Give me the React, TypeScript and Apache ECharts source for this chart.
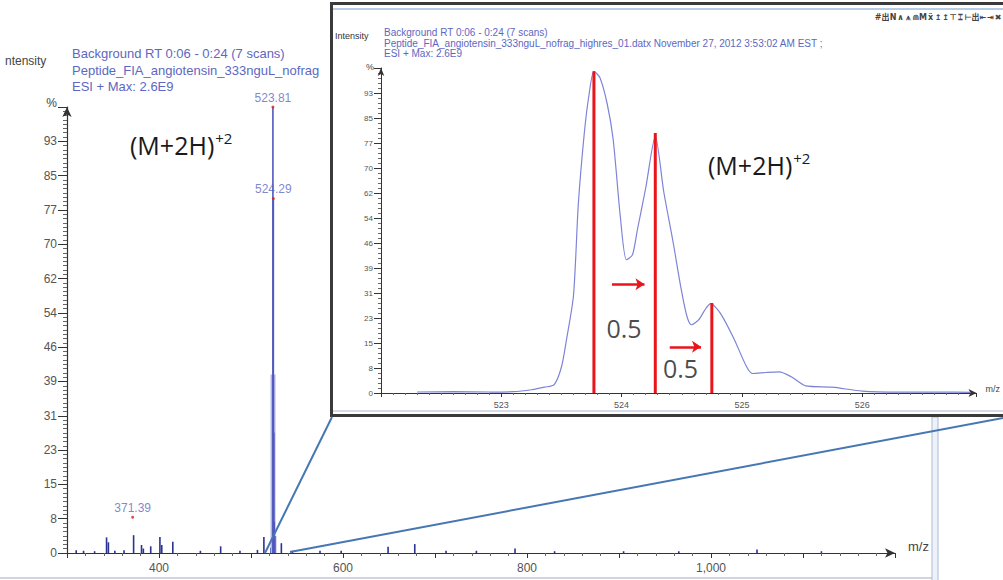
import React, { useEffect, useRef } from "react";
import * as echarts from "echarts";

// ---- data ----
const yTickLabels = ["0", "8", "15", "23", "31", "39", "46", "54", "62", "70", "77", "85", "93"];
const mainXLabelValues = [400, 600, 800, 1000];
const insetXLabelValues = [523, 524, 525, 526];

// main spectrum: small (background) peaks [m/z, %]
const mainNoisePeaks: [number, number][] = [
  [310, 0.6], [318, 0.5], [330, 0.4], [343, 3.5], [345, 2.4], [352, 0.5], [362, 0.6],
  [372.4, 4], [381, 1.8], [383, 1], [391, 1.5], [401, 3.6], [403, 1.8], [415, 2.5],
  [445, 0.5], [467, 1.5], [488, 0.5], [507, 0.7], [514, 3.6], [521.5, 1.2],
  [526.5, 3.8], [533, 2.2], [545, 0.5], [575, 0.5], [598, 0.5], [649, 1.4], [678, 2],
  [712, 0.5], [745, 0.5], [787, 1], [830, 0.4], [905, 0.4], [965, 0.4], [1050, 0.8], [1120, 0.4]
];
// main spectrum: isotope cluster of the (M+2H)+2 ion
const mainIsotopePeaks: [number, number][] = [
  [523.81, 100], [524.29, 79.5], [524.79, 27], [525.3, 7]
];
const mainPeakShoulder: [number, number][] = [[523.95, 40]];
// labelled peaks
const mainLabelledPeaks: [number, number][] = [[371.39, 8], [523.81, 100], [524.29, 79.5]];

// inset profile [m/z, %]
const insetProfile: [number, number][] = [
  [522.3, 0.3], [522.6, 0.4], [522.9, 0.3], [523.1, 0.4], [523.25, 1.0], [523.36, 1.8],
  [523.44, 2.6], [523.5, 8], [523.54, 16], [523.6, 30], [523.64, 58], [523.69, 80],
  [523.73, 92], [523.77, 99], [523.82, 97], [523.88, 89], [523.93, 78], [523.99, 54],
  [524.04, 41], [524.09, 42.5], [524.13, 50], [524.2, 63], [524.28, 79], [524.35, 62],
  [524.43, 46], [524.49, 33], [524.54, 24], [524.58, 21], [524.64, 22.5], [524.7, 26],
  [524.74, 27.5], [524.82, 24.6], [524.93, 17], [525.04, 8], [525.09, 6], [525.2, 6.3],
  [525.31, 6.5], [525.41, 5], [525.53, 2.2], [525.75, 1.8], [526.0, 0.6], [526.3, 0.3],
  [526.66, 0.3], [526.9, 0.2]
];
// inset centroid (red) lines
const insetCentroids: [number, number][] = [[523.77, 99], [524.28, 80], [524.75, 27.7]];
// spacing arrows and their labels
const spacingArrows: [[number, number], [number, number]][] = [
  [[523.92, 33.5], [524.19, 33.5]],
  [[524.4, 14.2], [524.66, 14.2]]
];
const spacingLabels: [number, number][] = [[524.02, 20], [524.49, 7.7]];
const spacingText = "0.5";
const toolbarIcons = ["#", "出", "N", "∧", "⩚", "⋒", "M", "ẍ", "↥", "↥", "⊤", "⌶", "⊢", "出", "⇤", "⇥", "✖"];

const Y_STEP = 100 / 13;
const yLabel = (v: number) => {
  const i = Math.round(v / Y_STEP);
  return yTickLabels[i] ?? "";
};

const stickRenderer = (width: number, color: string) => (params: any, api: any) => {
  const x = api.value(0);
  const h = api.value(1);
  const p0 = api.coord([x, 0]);
  const p1 = api.coord([x, h]);
  return {
    type: "line",
    shape: { x1: p0[0], y1: p0[1], x2: p1[0], y2: p1[1] },
    style: { stroke: color, lineWidth: width }
  };
};

const BLUE_TEXT = "#5d67c2";
const AXIS_COLOR = "#333";
const LABEL_COLOR = "#555";
const SANS = "Liberation Sans, Arial, sans-serif";
const BIG = "Open Sans, Noto Sans, sans-serif";

export default function App() {
  const ref = useRef<HTMLDivElement>(null);
  useEffect(() => {
    if (!ref.current) return;
    const chart = echarts.init(ref.current, undefined, { renderer: "svg" });

    const bigLabel = {
      text: "{a|(M+2H)}{b|+2}",
      rich: {
        a: { fontSize: 25, fontFamily: BIG, fill: "#1a1a1a", lineHeight: 32 },
        b: { fontSize: 15, fontFamily: BIG, fill: "#1a1a1a", padding: [0, 0, 14, 1] }
      },
      verticalAlign: "middle"
    };

    const toolbar = toolbarIcons.map((s, i) => ({
      type: "text", x: 878 + i * 7.5, y: 17, z: 6,
      style: {
        text: s, fontSize: 8, fontWeight: "bold", fill: "#444", align: "center", verticalAlign: "middle",
        fontFamily: "DejaVu Sans, Noto Sans CJK SC, sans-serif"
      }
    }));

    const option: any = {
      animation: false,
      backgroundColor: "#fff",
      textStyle: { fontFamily: SANS },
      grid: [
        { left: 67, top: 107, width: 828, height: 446 },
        { left: 381, top: 68, width: 599, height: 325 }
      ],
      xAxis: [
        {
          gridIndex: 0, type: "value", min: 300, max: 1200, interval: 100,
          name: "m/z", nameLocation: "end", nameGap: 13,
          nameTextStyle: { fontSize: 13, color: "#444", verticalAlign: "bottom", padding: [0, 0, 0, 0] },
          axisLine: { show: true, symbol: ["none", "arrow"], symbolSize: [7, 10], lineStyle: { color: AXIS_COLOR, width: 1.2 } },
          axisTick: { show: true, length: 5, lineStyle: { color: AXIS_COLOR } },
          minorTick: { show: true, splitNumber: 5, length: 3, lineStyle: { color: "#666" } },
          axisLabel: {
            fontSize: 12, color: LABEL_COLOR, margin: 9,
            formatter: (v: number) => (mainXLabelValues.includes(v) ? v.toLocaleString("en-US") : "")
          },
          splitLine: { show: false }
        },
        {
          gridIndex: 1, type: "value", min: 522, max: 526.95, interval: 1, z: 10,
          name: "m/z", nameLocation: "end", nameGap: 9,
          nameTextStyle: { fontSize: 9, color: "#444", verticalAlign: "bottom" },
          axisLine: { show: true, symbol: ["none", "arrow"], symbolSize: [6, 8], lineStyle: { color: AXIS_COLOR } },
          axisTick: { show: true, length: 4, lineStyle: { color: AXIS_COLOR } },
          minorTick: { show: true, splitNumber: 10, length: 2, lineStyle: { color: "#666" } },
          axisLabel: {
            fontSize: 9, color: LABEL_COLOR, margin: 7,
            formatter: (v: number) => (insetXLabelValues.includes(Math.round(v)) ? String(Math.round(v)) : "")
          },
          splitLine: { show: false }
        }
      ],
      yAxis: [
        {
          gridIndex: 0, type: "value", min: 0, max: 100, interval: Y_STEP,
          name: "%", nameLocation: "end", nameGap: 4,
          nameTextStyle: { fontSize: 12, color: "#444", align: "right", verticalAlign: "middle", padding: [0, 10, 0, 0] },
          axisLine: { show: true, symbol: ["none", "arrow"], symbolSize: [7, 10], lineStyle: { color: AXIS_COLOR, width: 1.2 } },
          axisTick: { show: true, length: 9, lineStyle: { color: AXIS_COLOR } },
          minorTick: { show: true, splitNumber: 8, length: 4, lineStyle: { color: "#666" } },
          axisLabel: { fontSize: 12, color: LABEL_COLOR, margin: 10, formatter: yLabel },
          splitLine: { show: false }
        },
        {
          gridIndex: 1, type: "value", min: 0, max: 100, interval: Y_STEP, z: 10,
          name: "%", nameLocation: "end", nameGap: 1,
          nameTextStyle: { fontSize: 9, color: "#444", align: "right", verticalAlign: "middle", padding: [0, 7, 0, 0] },
          axisLine: { show: true, symbol: ["none", "arrow"], symbolSize: [5, 8], lineStyle: { color: AXIS_COLOR } },
          axisTick: { show: true, length: 7, lineStyle: { color: AXIS_COLOR } },
          minorTick: { show: true, splitNumber: 5, length: 3, lineStyle: { color: "#666" } },
          axisLabel: { fontSize: 8, color: LABEL_COLOR, margin: 8, formatter: yLabel },
          splitLine: { show: false }
        }
      ],
      series: [
        {
          name: "background peaks", type: "custom", xAxisIndex: 0, yAxisIndex: 0, z: 2,
          renderItem: stickRenderer(1.6, "#2b3290"), data: mainNoisePeaks, encode: { x: 0, y: 1 }
        },
        {
          name: "shoulder", type: "custom", xAxisIndex: 0, yAxisIndex: 0, z: 2,
          renderItem: stickRenderer(5, "#b3b6e6"), data: mainPeakShoulder, encode: { x: 0, y: 1 }
        },
        {
          name: "isotope peaks", type: "custom", xAxisIndex: 0, yAxisIndex: 0, z: 3,
          renderItem: stickRenderer(1.6, "#5258bd"), data: mainIsotopePeaks, encode: { x: 0, y: 1 }
        },
        {
          name: "labelled", type: "scatter", xAxisIndex: 0, yAxisIndex: 0, z: 4,
          symbol: "circle", symbolSize: 3, itemStyle: { color: "#d62020" },
          data: mainLabelledPeaks,
          label: {
            show: true, position: "top", distance: 2, fontSize: 12, color: BLUE_TEXT,
            formatter: (p: any) => p.value[0].toFixed(2)
          }
        },
        {
          name: "profile", type: "line", xAxisIndex: 1, yAxisIndex: 1, z: 11,
          data: insetProfile, showSymbol: false, symbol: "none", smooth: 0.25,
          lineStyle: { color: "#7d84d8", width: 1.2 },
          markLine: {
            silent: true, symbol: ["none", "arrow"], symbolSize: [9, 9],
            lineStyle: { color: "#e8151b", width: 2.5, type: "solid" },
            label: { show: false },
            data: spacingArrows.map(([a, b]) => [{ coord: a }, { coord: b }])
          }
        },
        {
          name: "centroids", type: "custom", xAxisIndex: 1, yAxisIndex: 1, z: 12,
          renderItem: stickRenderer(3, "#e8151b"), data: insetCentroids, encode: { x: 0, y: 1 }
        },
        {
          name: "spacing", type: "scatter", xAxisIndex: 1, yAxisIndex: 1, z: 13,
          symbolSize: 1, itemStyle: { color: "rgba(0,0,0,0)" },
          data: spacingLabels,
          label: {
            show: true, position: "inside", fontSize: 25, fontFamily: BIG, color: "#1a1a1a",
            formatter: () => spacingText
          }
        }
      ],
      graphic: [
        // main header
        { type: "text", x: 5, y: 61, z: 1, style: { text: "ntensity", fontSize: 12, fill: "#444", fontFamily: SANS, verticalAlign: "middle" } },
        { type: "text", x: 72, y: 53, z: 1, style: { text: "Background RT 0:06 - 0:24 (7 scans)", fontSize: 13, fill: BLUE_TEXT, fontFamily: SANS, verticalAlign: "middle" } },
        { type: "text", x: 72, y: 70, z: 1, style: { text: "Peptide_FIA_angiotensin_333nguL_nofrag", fontSize: 13, fill: BLUE_TEXT, fontFamily: SANS, verticalAlign: "middle" } },
        { type: "text", x: 72, y: 86, z: 1, style: { text: "ESI + Max: 2.6E9", fontSize: 13, fill: BLUE_TEXT, fontFamily: SANS, verticalAlign: "middle" } },
        { type: "text", x: 130, y: 145, z: 3, style: bigLabel },
        // window edge decorations
        { type: "line", z: 1, shape: { x1: 0, y1: 578, x2: 932, y2: 578 }, style: { stroke: "#cdd6e1", lineWidth: 2 } },
        { type: "rect", z: 4, shape: { x: 932, y: 417, width: 6, height: 170 }, style: { fill: "#eef2f8", stroke: "#a9bcd6", lineWidth: 1 } },
        // inset frame
        { type: "rect", z: 5, shape: { x: 331.5, y: 3.5, width: 700, height: 412 }, style: { fill: "#fff", stroke: "#3a3a3a", lineWidth: 3 } },
        { type: "line", z: 6, shape: { x1: 333, y1: 9, x2: 1003, y2: 9 }, style: { stroke: "#b8cce4", lineWidth: 2 } },
        { type: "line", z: 6, shape: { x1: 333, y1: 411, x2: 1003, y2: 411 }, style: { stroke: "#d3dce8", lineWidth: 2 } },
        { type: "text", x: 335, y: 36, z: 6, style: { text: "Intensity", fontSize: 9, fill: "#333", fontFamily: SANS, verticalAlign: "middle" } },
        { type: "text", x: 384, y: 32, z: 6, style: { text: "Background RT 0:06 - 0:24 (7 scans)", fontSize: 10, fill: BLUE_TEXT, fontFamily: SANS, verticalAlign: "middle" } },
        { type: "text", x: 384, y: 43, z: 6, style: { text: "Peptide_FIA_angiotensin_333nguL_nofrag_highres_01.datx November 27, 2012 3:53:02 AM EST ;", fontSize: 10, fill: BLUE_TEXT, fontFamily: SANS, verticalAlign: "middle" } },
        { type: "text", x: 384, y: 53, z: 6, style: { text: "ESI + Max: 2.6E9", fontSize: 10, fill: BLUE_TEXT, fontFamily: SANS, verticalAlign: "middle" } },
        ...toolbar,
        { type: "text", x: 708, y: 165, z: 15, style: bigLabel },
        // zoom connector lines
        { type: "line", z: 20, shape: { x1: 265, y1: 553, x2: 332, y2: 417 }, style: { stroke: "#4677b3", lineWidth: 2 } },
        { type: "line", z: 20, shape: { x1: 290, y1: 552, x2: 1003, y2: 418 }, style: { stroke: "#4677b3", lineWidth: 2 } }
      ]
    };

    chart.setOption(option);
    return () => chart.dispose();
  }, []);

  return (
    <div
      ref={ref}
      style={{ position: "fixed", left: 0, top: 0, width: 1003, height: 580, background: "#fff" }}
    />
  );
}
